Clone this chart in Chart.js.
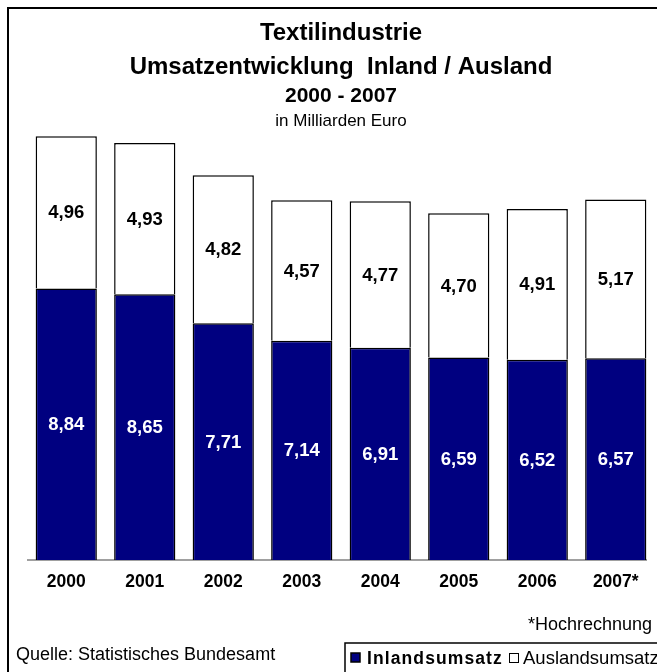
<!DOCTYPE html>
<html>
<head>
<meta charset="utf-8">
<script src="https://cdn.jsdelivr.net/npm/chart.js@4/dist/chart.umd.min.js"></script>
<style>
html,body{margin:0;padding:0;background:#fff;}
canvas{display:block;}
</style>
</head>
<body>
<canvas id="c" width="657" height="672"></canvas>
<script>
const categories = ['2000','2001','2002','2003','2004','2005','2006','2007*'];
const inlandValues = [8.84, 8.65, 7.71, 7.14, 6.91, 6.59, 6.52, 6.57];
const auslandValues = [4.96, 4.93, 4.82, 4.57, 4.77, 4.70, 4.91, 5.17];
const seriesNames = ['Inlandsumsatz', 'Auslandsumsatz'];
const titleLines = ['Textilindustrie', 'Umsatzentwicklung  Inland / Ausland', '2000 - 2007', 'in Milliarden Euro'];
const footnote = '*Hochrechnung';
const source = 'Quelle: Statistisches Bundesamt';

const FONT = "'Liberation Sans', Arial, sans-serif";
const NAVY = '#000080';

const fmt = v => v.toFixed(2).replace('.', ',');

const decor = {
  id: 'decor',
  beforeDatasetsDraw(chart) {
    // baseline (category axis line)
    const ctx = chart.ctx;
    const y0 = chart.scales.y.getPixelForValue(0);
    ctx.save();
    ctx.strokeStyle = '#808080';
    ctx.lineWidth = 1.5;
    ctx.beginPath();
    ctx.moveTo(27, y0);
    ctx.lineTo(647, y0);
    ctx.stroke();
    ctx.restore();
  },
  afterDraw(chart) {
    const ctx = chart.ctx;
    ctx.save();
    // outer frame
    ctx.strokeStyle = '#000';
    ctx.lineWidth = 2;
    ctx.strokeRect(8, 8, 800, 800);

    // titles
    const cx = 341;
    ctx.fillStyle = '#000';
    ctx.textAlign = 'center';
    ctx.textBaseline = 'middle';
    ctx.font = 'bold 24px ' + FONT;
    ctx.fillText(titleLines[0], cx, 33);
    ctx.fillText(titleLines[1], cx, 67);
    ctx.font = 'bold 21px ' + FONT;
    ctx.fillText(titleLines[2], cx, 96);
    ctx.font = '17px ' + FONT;
    ctx.fillText(titleLines[3], cx, 121);

    // data labels
    ctx.font = 'bold 18.5px ' + FONT;
    chart.data.datasets.forEach((ds, di) => {
      const meta = chart.getDatasetMeta(di);
      meta.data.forEach((el, i) => {
        const y = (el.y + el.base) / 2 + 1;
        ctx.fillStyle = di === 0 ? '#fff' : '#000';
        ctx.fillText(fmt(ds.data[i]), el.x, y);
      });
    });

    // footnote
    ctx.fillStyle = '#000';
    ctx.font = '18px ' + FONT;
    ctx.textAlign = 'right';
    ctx.fillText(footnote, 652, 625);
    ctx.textAlign = 'left';
    ctx.fillText(source, 16, 655);

    // legend box
    ctx.lineWidth = 1.5;
    ctx.strokeStyle = '#000';
    ctx.strokeRect(345, 643, 400, 60);
    ctx.fillStyle = NAVY;
    ctx.fillRect(351, 653, 9, 9);
    ctx.strokeRect(351, 653, 9, 9);
    ctx.fillStyle = '#000';
    ctx.font = 'bold 17.5px ' + FONT;
    ctx.letterSpacing = '1.1px';
    ctx.fillText(seriesNames[0], 367, 659);
    ctx.letterSpacing = '0px';
    ctx.fillStyle = '#fff';
    ctx.fillRect(509, 653, 9, 9);
    ctx.lineWidth = 1;
    ctx.strokeRect(509.5, 653.5, 9, 9);
    ctx.fillStyle = '#000';
    ctx.font = '18.5px ' + FONT;
    ctx.fillText(seriesNames[1], 523, 659);
    ctx.restore();
  }
};

new Chart(document.getElementById('c'), {
  type: 'bar',
  data: {
    labels: categories,
    datasets: [
      { label: seriesNames[0], data: inlandValues, backgroundColor: NAVY, borderColor: '#000', borderWidth: 1.5, borderSkipped: 'start' },
      { label: seriesNames[1], data: auslandValues, backgroundColor: '#fff', borderColor: '#000', borderWidth: 1.5, borderSkipped: 'start' }
    ]
  },
  options: {
    responsive: false,
    animation: false,
    layout: { padding: { left: 27, right: 2, top: 130, bottom: 67 } },
    datasets: { bar: { barPercentage: 0.78, categoryPercentage: 1.0 } },
    plugins: { legend: { display: false }, title: { display: false }, tooltip: { enabled: false } },
    scales: {
      x: {
        stacked: true,
        grid: { display: false, drawTicks: false },
        border: { display: false },
        ticks: { color: '#000', font: { family: FONT, size: 17.5, weight: 'bold' }, padding: 12, maxRotation: 0 },
        afterFit(scale) { scale.height = 45; }
      },
      y: {
        stacked: true,
        display: false,
        min: 0,
        max: 14
      }
    }
  },
  plugins: [decor]
});
</script>
</body>
</html>
